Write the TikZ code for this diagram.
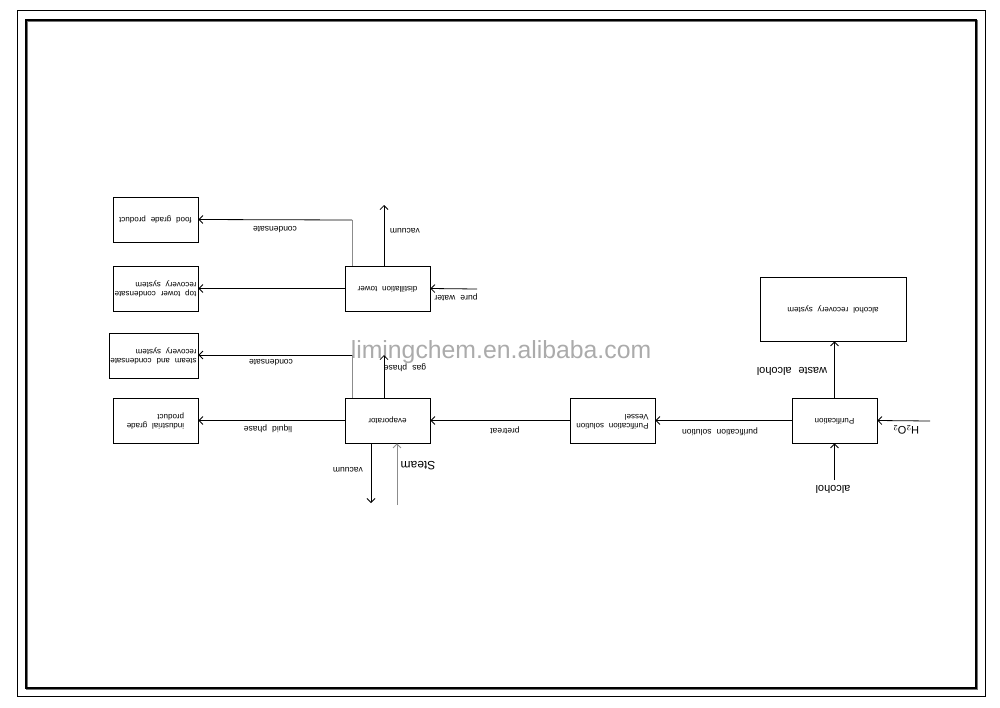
\documentclass[tikz,border=0pt]{standalone}
\usepackage{fontspec}
\usepackage{graphicx}
\setmainfont[WordSpace=2.2]{Liberation Sans}
\usetikzlibrary{arrows.meta,calc}
\newcommand\flipt[1]{\rotatebox[origin=c]{180}{\begin{tabular}{@{}l@{}}#1\end{tabular}}}
\begin{document}
\begin{tikzpicture}[x=1pt,y=-1pt,
  box/.style={draw,line width=0.8pt,minimum width=85pt,minimum height=45pt,inner xsep=0pt,inner ysep=2pt,font=\fontsize{8}{9}\selectfont},
  lab/.style={rotate=180,font=\fontsize{8.5}{9}\selectfont,inner sep=1pt},
  biglab/.style={rotate=180,font=\fontsize{11}{12}\selectfont,inner sep=1pt},
  arr/.style={line width=0.8pt,-{Straight Barb[length=4pt,width=8pt,line width=0.8pt]}},
  grayline/.style={line width=0.9pt,draw=black!45}]
\useasboundingbox (0,0) rectangle (1000,707);
% frames
\draw[line width=0.7pt] (17,10) rectangle (985,696);
\draw[line width=2.2pt,draw=black!55] (27,21) rectangle (977,689);
\draw[line width=1.2pt] (26,20) rectangle (976,688);
% watermark
\node[text=black!33,font=\fontsize{24.8}{27}\selectfont] (wm) at (501,352) {limingchem.en.alibaba.com};
% boxes
\node[box] (food) at (155.5,219.5) {\flipt{food grade product}};
\node[box] (top) at (155.5,288.5) {\flipt{top tower condensate\\recovery system}};
\node[box,minimum width=89pt] (steamc) at (153.5,355.5) {\flipt{steam and condensate\\recovery system}};
\node[box] (ind) at (155.5,420.5) {\flipt{industrial grade\\product}};
\node[box] (dist) at (387.5,288.5) {\flipt{distillation tower}};
\node[box] (evap) at (387.5,420.5) {\flipt{evaporator}};
\node[box] (vessel) at (612.5,420.5) {\flipt{Purification solution\\Vessel}};
\node[box] (pur) at (834.5,420.5) {\flipt{Purification}};
\node[box,minimum width=146pt,minimum height=64pt] (alc) at (833,309) {\flipt{alcohol recovery system}};
% coordinates
\coordinate (c1) at (352,220);
\coordinate (v1) at (384,205);
\coordinate (pw) at (477,289);
\coordinate (c2) at (352,355);
\coordinate (gp) at (384,355);
\coordinate (vd) at (371,503);
\coordinate (st) at (397,505);
\coordinate (al) at (834.5,480);
\coordinate (h2) at (930,421);
% connectors
\draw[grayline] (c1 |- dist.north) -- (c1);
\draw[arr] (c1) -- (food.east);
\draw[arr] (v1 |- dist.north) -- (v1);
\draw[arr] (dist.west) -- (top.east);
\draw[arr] (pw) -- (dist.east);
\draw[grayline] (c2 |- evap.north) -- (c2);
\draw[arr] (c2) -- (steamc.east |- c2);
\draw[arr] (gp |- evap.north) -- (gp);
\draw[arr] (evap.west) -- (ind.east);
\draw[arr] (vd |- evap.south) -- (vd);
\draw[grayline,-{Straight Barb[length=4pt,width=8pt,line width=0.8pt]}] (st) -- (st |- evap.south);
\draw[arr] (vessel.west) -- (evap.east);
\draw[arr] (pur.west) -- (vessel.east);
\draw[arr] (al) -- (pur.south);
\draw[arr] (h2) -- (pur.east);
\draw[arr] (pur.north) -- (pur.north |- alc.south);
% labels
\node[lab] (l1) at (275,230) {condensate};
\node[lab] (l2) at (405,231) {vacuum};
\node[lab] (l3) at (456,297) {pure water};
\node[lab] (l4) at (405,368) {gas phase};
\node[lab] (l5) at (271,363) {condensate};
\node[lab] (l6) at (268,429) {liquid phase};
\node[lab] (l7) at (348,470) {vacuum};
\node[biglab,font=\fontsize{12}{13}\selectfont] (l8) at (418,466) {Steam};
\node[lab] (l9) at (505,430) {pretreat};
\node[lab] (l10) at (720,432) {purification solution};
\node[biglab] (l11) at (833,489) {alcohol};
\node[biglab] (l12) at (906,430) {H$_2$O$_2$};
\node[biglab] (l13) at (792,371) {waste alcohol};
\end{tikzpicture}
\end{document}
